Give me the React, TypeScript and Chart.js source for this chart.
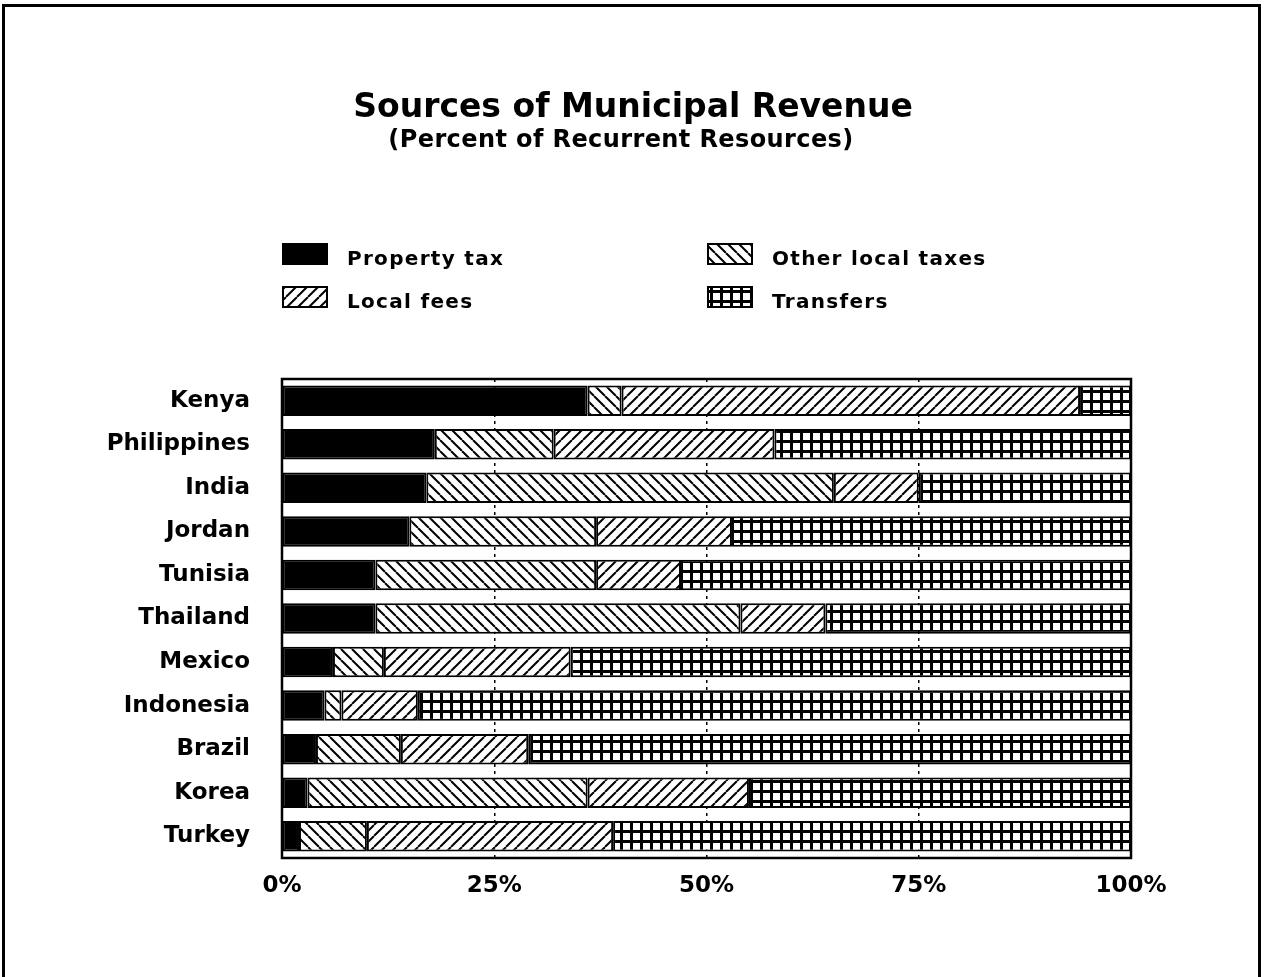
import React, { useEffect, useRef } from "react";
import { Chart, registerables } from "chart.js";

Chart.register(...registerables);

const categories = ["Kenya", "Philippines", "India", "Jordan", "Tunisia", "Thailand", "Mexico", "Indonesia", "Brazil", "Korea", "Turkey"];
const propertyTax = [36, 18, 17, 15, 11, 11, 6, 5, 4, 3, 2];
const otherLocalTaxes = [4, 14, 48, 22, 26, 43, 6, 2, 10, 33, 8];
const localFees = [54, 26, 10, 16, 10, 10, 22, 9, 15, 19, 29];
const transfers = [6, 42, 25, 47, 53, 36, 66, 84, 71, 45, 61];
const tickValues = [0, 25, 50, 75, 100];
const tickLabels = ["0%", "25%", "50%", "75%", "100%"];
const seriesNames = ["Property tax", "Other local taxes", "Local fees", "Transfers"];
const titleText = "Sources of Municipal Revenue";
const subtitleText = "(Percent of Recurrent Resources)";

const FONT = "'DejaVu Sans', 'Liberation Sans', Arial, sans-serif";

function makePattern(kind: string): CanvasPattern | string {
  if (kind === "solid") return "#000";
  const c = document.createElement("canvas");
  let w = 11, h = 11;
  if (kind === "grid") { w = 10; h = 10; }
  c.width = w; c.height = h;
  const g = c.getContext("2d")!;
  g.fillStyle = "#fff";
  g.fillRect(0, 0, w, h);
  g.strokeStyle = "#000";
  g.fillStyle = "#000";
  g.lineWidth = 2;
  if (kind === "down") {
    g.beginPath();
    for (const o of [-w, 0, w]) { g.moveTo(o, 0); g.lineTo(o + w, h); }
    g.stroke();
  } else if (kind === "up") {
    g.beginPath();
    for (const o of [-w, 0, w]) { g.moveTo(o, h); g.lineTo(o + w, 0); }
    g.stroke();
  } else {
    g.fillRect(0, 0, w, 3);
    g.fillRect(0, 0, 3, h);
  }
  return g.createPattern(c, "repeat")!;
}

export default function App() {
  const ref = useRef<HTMLCanvasElement | null>(null);
  useEffect(() => {
    const canvas = ref.current!;
    const fills = [makePattern("solid"), makePattern("down"), makePattern("up"), makePattern("grid")];
    const values = [propertyTax, otherLocalTaxes, localFees, transfers];

    const decor = {
      id: "decor",
      beforeDraw(chart: any) {
        const ctx = chart.ctx;
        ctx.save();
        ctx.fillStyle = "#fff";
        ctx.fillRect(0, 0, chart.width, chart.height);
        // page frame
        ctx.strokeStyle = "#000";
        ctx.lineWidth = 3;
        ctx.beginPath();
        ctx.moveTo(3.5, 977);
        ctx.lineTo(3.5, 5.5);
        ctx.lineTo(1259.5, 5.5);
        ctx.lineTo(1259.5, 977);
        ctx.stroke();
        // titles
        ctx.fillStyle = "#000";
        ctx.textAlign = "center";
        ctx.textBaseline = "alphabetic";
        ctx.font = `bold 33px ${FONT}`;
        ctx.fillText(titleText, 633, 117);
        ctx.font = `bold 24px ${FONT}`;
        (ctx as any).letterSpacing = "0.4px";
        ctx.fillText(subtitleText, 621, 147);
        // legend (2 x 2)
        const pos = [
          [282, 243], [707, 243], [282, 286], [707, 286],
        ];
        ctx.font = `bold 20px ${FONT}`;
        (ctx as any).letterSpacing = "1.3px";
        ctx.textAlign = "left";
        seriesNames.forEach((name, si) => {
          const [x, y] = pos[si];
          ctx.fillStyle = fills[si] as any;
          ctx.fillRect(x, y, 46, 22);
          ctx.lineWidth = 2;
          ctx.strokeStyle = "#000";
          ctx.strokeRect(x + 1, y + 1, 44, 20);
          ctx.fillStyle = "#000";
          ctx.fillText(name, x + 65, y + 22);
        });
        (ctx as any).letterSpacing = "0px";
        ctx.restore();
      },
      afterDatasetsDraw(chart: any) {
        const { ctx, chartArea } = chart;
        ctx.save();
        ctx.strokeStyle = "#000";
        ctx.lineWidth = 2.5;
        ctx.strokeRect(chartArea.left, chartArea.top, chartArea.right - chartArea.left, chartArea.bottom - chartArea.top);
        ctx.restore();
      },
    };

    const chart = new Chart(canvas, {
      type: "bar",
      data: {
        labels: categories,
        datasets: values.map((v, i) => ({
          label: seriesNames[i],
          data: v,
          backgroundColor: fills[i] as any,
          borderColor: "#000",
          borderWidth: 2,
          borderSkipped: false,
          barPercentage: 0.7,
          categoryPercentage: 1,
        })),
      },
      options: {
        indexAxis: "y",
        responsive: false,
        animation: false,
        layout: { padding: { top: 379, right: 133, bottom: 0, left: 0 } },
        plugins: { legend: { display: false }, title: { display: false }, tooltip: { enabled: false } },
        scales: {
          x: {
            stacked: true,
            min: 0,
            max: 100,
            afterBuildTicks: (scale: any) => { scale.ticks = tickValues.map((v) => ({ value: v })); },
            afterFit: (scale: any) => { scale.height = 119; },
            ticks: {
              color: "#000",
              font: { family: FONT, size: 23, weight: "bold" },
              padding: 14,
              maxRotation: 0,
              callback: (v: any) => tickLabels[tickValues.indexOf(Number(v))] ?? "",
            },
            grid: { color: "#000", lineWidth: 1.5, drawTicks: false },
            border: { display: false, dash: [3, 4] },
          },
          y: {
            stacked: true,
            afterFit: (scale: any) => { scale.width = 282; },
            ticks: {
              color: "#000",
              font: { family: FONT, size: 23, weight: "bold" },
              padding: 32,
            },
            grid: { display: false, drawTicks: false },
            border: { display: false },
          },
        },
      },
      plugins: [decor],
    } as any);
    return () => chart.destroy();
  }, []);
  return (
    <div style={{ position: "fixed", left: 0, top: 0, width: 1264, height: 977, background: "#fff" }}>
      <canvas ref={ref} width={1264} height={977} />
    </div>
  );
}
